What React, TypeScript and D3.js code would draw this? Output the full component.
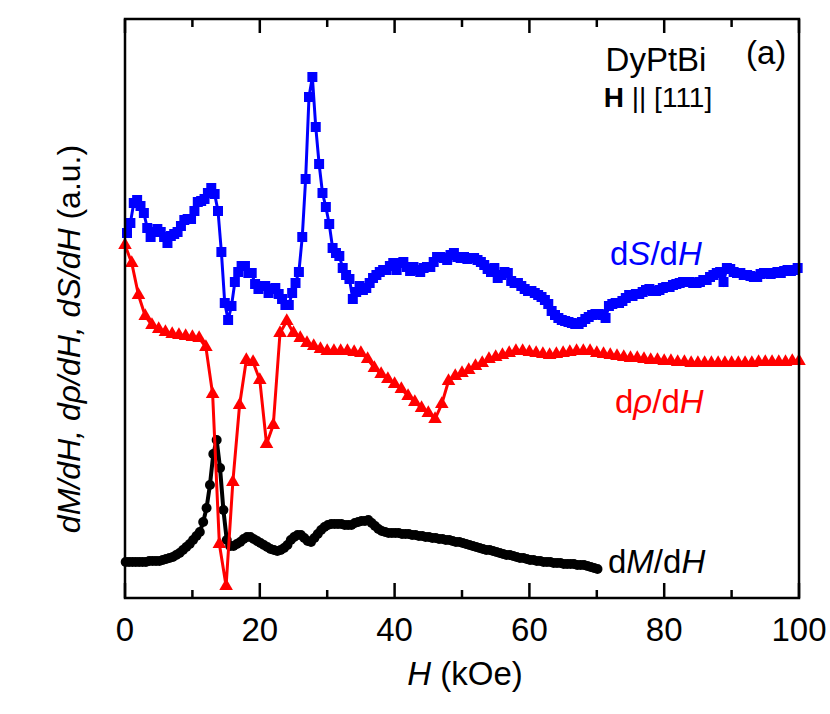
import React from 'react';
import * as d3 from 'd3';

const W = 830;
const H = 714;

// dS/dH (blue squares): sweep starts at 0.3 kOe, one point every 0.5 kOe
const dSdHStart = 0.3;
const dSdHStep = 0.5;
const dSdH = [
  367, 377, 397, 400, 394, 387, 372, 363, 368, 371,
  368, 363, 357, 364, 366, 368, 374, 380, 381, 381,
  389, 398, 399, 401, 407, 412, 406, 389, 348, 297,
  280, 294, 318, 328, 334, 334, 327, 327, 316, 311,
  314, 314, 307, 311, 312, 306, 301, 295, 295, 307,
  317, 328, 363, 421, 503, 523, 473, 436, 407, 393,
  376, 352, 347, 344, 332, 325, 321, 301, 308, 314,
  310, 312, 317, 322, 325, 328, 330, 330, 334, 337,
  330, 337, 338, 333, 329, 333, 330, 328, 332, 333,
  333, 338, 343, 343, 342, 340, 345, 347, 343, 342,
  343, 341, 342, 342, 340, 338, 335, 331, 328, 332,
  322, 325, 328, 327, 319, 317, 317, 314, 311, 309,
  309, 307, 305, 303, 300, 296, 289, 285, 282, 280,
  279, 278, 277, 276, 276, 278, 281, 283, 285, 286,
  286, 285, 282, 294, 296, 297, 297, 299, 302, 305,
  304, 306, 306, 308, 310, 311, 309, 309, 310, 312,
  313, 313, 315, 316, 317, 318, 318, 318, 317, 317,
  318, 320, 320, 323, 325, 327, 328, 318, 332, 331,
  328, 327, 327, 325, 325, 324, 323, 323, 326, 327,
  327, 326, 327, 328, 327, 329, 330, 329, 330, 332,
];

// d rho/dH (red triangles): 0 to 100 kOe, every 1 kOe
const dRhoStart = 0;
const dRhoStep = 1;
const dRhodH = [
  355, 337, 305, 284, 275, 271, 268, 266, 265, 264,
  263, 262, 253, 206, 56, 14, 118, 195, 240, 238,
  220, 156, 175, 267, 279, 267, 262, 257, 254, 251,
  249, 249, 249, 249, 248, 247, 241, 232, 226, 221,
  216, 211, 204, 198, 192, 187, 181, 196, 219, 224,
  227, 230, 234, 237, 241, 243, 245, 247, 249, 249,
  248, 247, 246, 245, 246, 247, 248, 249, 249, 249,
  247, 246, 245, 244, 243, 242, 242, 241, 240, 240,
  239, 239, 238, 238, 237, 237, 237, 237, 237, 237,
  237, 237, 237, 237, 238, 238, 238, 238, 238, 239,
  239,
];

// dM/dH (black circles): starts at 0.1 kOe, every 0.5 kOe up to 70 kOe
const dMStart = 0.1;
const dMStep = 0.5;
const dMdH = [
  38, 38, 38, 38, 38, 38, 38, 39, 39, 39,
  39, 40, 41, 42, 43, 45, 47, 50, 53, 56,
  60, 64, 68, 78, 92, 115, 146, 160, 132, 90,
  60, 54, 54, 56, 58, 61, 63, 63, 61, 59,
  57, 55, 53, 51, 50, 49, 50, 52, 55, 60,
  63, 65, 65, 62, 59, 58, 62, 66, 70, 73,
  75, 76, 76, 76, 76, 75, 75, 75, 77, 78,
  79, 79, 80, 77, 74, 71, 69, 68, 67, 67,
  67, 67, 66, 66, 66, 65, 65, 64, 64, 63,
  63, 62, 62, 61, 61, 60, 60, 59, 58, 58,
  57, 56, 55, 54, 53, 52, 51, 50, 50, 49,
  48, 47, 46, 45, 45, 44, 43, 42, 42, 41,
  40, 40, 39, 39, 38, 38, 38, 37, 37, 37,
  36, 36, 36, 36, 35, 35, 35, 34, 33, 32,
  31,
];

const xMajor = [0, 20, 40, 60, 80, 100];
const xMinor = [10, 30, 50, 70, 90];

const FONT = '"Liberation Sans", Arial, Helvetica, sans-serif';

type Pt = [number, number];
const toPts = (vals: number[], start: number, step: number): Pt[] =>
  vals.map((v, i) => [start + step * i, v]);

export default function App() {
  const x = d3.scaleLinear().domain([0, 100]).range([125, 799]);
  const y = d3.scaleLinear().domain([2, 581]).range([598, 19]);
  const top = y.range()[1];
  const bottom = y.range()[0];
  const left = x.range()[0];
  const right = x.range()[1];

  const line = d3.line<Pt>().x(d => x(d[0])).y(d => y(d[1]));

  const blue = toPts(dSdH, dSdHStart, dSdHStep);
  const red = toPts(dRhodH, dRhoStart, dRhoStep);
  const black = toPts(dMdH, dMStart, dMStep);

  const sq = d3.symbol().type(d3.symbolSquare).size(100)()!;
  const tri = d3.symbol().type(d3.symbolTriangle).size(80)()!;

  return (
    <svg width={W} height={H} style={{ position: 'absolute', left: 0, top: 0, background: '#fff' }}
      fontFamily={FONT}>
      {/* dM/dH */}
      <path d={line(black)!} fill="none" stroke="#000" strokeWidth={4} />
      {black.map((d, i) => (
        <circle key={'k' + i} cx={x(d[0])} cy={y(d[1])} r={5} fill="#000" />
      ))}

      {/* d rho / dH */}
      <path d={line(red)!} fill="none" stroke="#ff0000" strokeWidth={3} />
      {red.map((d, i) => (
        <path key={'r' + i} d={tri} transform={`translate(${x(d[0])},${y(d[1])})`} fill="#ff0000" />
      ))}

      {/* dS/dH */}
      <path d={line(blue)!} fill="none" stroke="#0000ff" strokeWidth={3} />
      {blue.map((d, i) => (
        <path key={'b' + i} d={sq} transform={`translate(${x(d[0])},${y(d[1])})`} fill="#0000ff" />
      ))}

      {/* frame */}
      <rect x={left} y={top} width={right - left} height={bottom - top} fill="none" stroke="#000" strokeWidth={2.5} />

      {xMajor.map(t => (
        <g key={'M' + t} stroke="#000" strokeWidth={2.5}>
          <line x1={x(t)} x2={x(t)} y1={bottom} y2={bottom - 15} />
          <line x1={x(t)} x2={x(t)} y1={top} y2={top + 14} />
        </g>
      ))}
      {xMinor.map(t => (
        <g key={'m' + t} stroke="#000" strokeWidth={2.5}>
          <line x1={x(t)} x2={x(t)} y1={bottom} y2={bottom - 8} />
          <line x1={x(t)} x2={x(t)} y1={top} y2={top + 8} />
        </g>
      ))}

      {xMajor.map(t => (
        <text key={'t' + t} x={x(t)} y={641} fontSize={33} textAnchor="middle" fill="#000">
          {t}
        </text>
      ))}

      <text x={465} y={685} fontSize={33} textAnchor="middle" fill="#000">
        <tspan fontStyle="italic">H</tspan> (kOe)
      </text>

      <text transform="translate(80,339) rotate(-90)" fontSize={32} textAnchor="middle" fill="#000">
        <tspan fontStyle="italic">dM/dH, dρ/dH, dS/dH</tspan> (a.u.)
      </text>

      <text x={656} y={71} fontSize={33} textAnchor="middle" fill="#000">DyPtBi</text>
      <text x={746} y={64} fontSize={33} fill="#000">(a)</text>
      <text x={658} y={107} fontSize={28} textAnchor="middle" fill="#000">
        <tspan fontWeight="bold">H</tspan> || [111]
      </text>

      <text x={610} y={265} fontSize={33} fill="#0000ff">
        d<tspan fontStyle="italic">S</tspan>/d<tspan fontStyle="italic">H</tspan>
      </text>
      <text x={615} y={413} fontSize={33} fill="#ff0000">
        d<tspan fontStyle="italic">ρ</tspan>/d<tspan fontStyle="italic">H</tspan>
      </text>
      <text x={608} y={573} fontSize={33} fill="#000">
        d<tspan fontStyle="italic">M</tspan>/d<tspan fontStyle="italic">H</tspan>
      </text>
    </svg>
  );
}
